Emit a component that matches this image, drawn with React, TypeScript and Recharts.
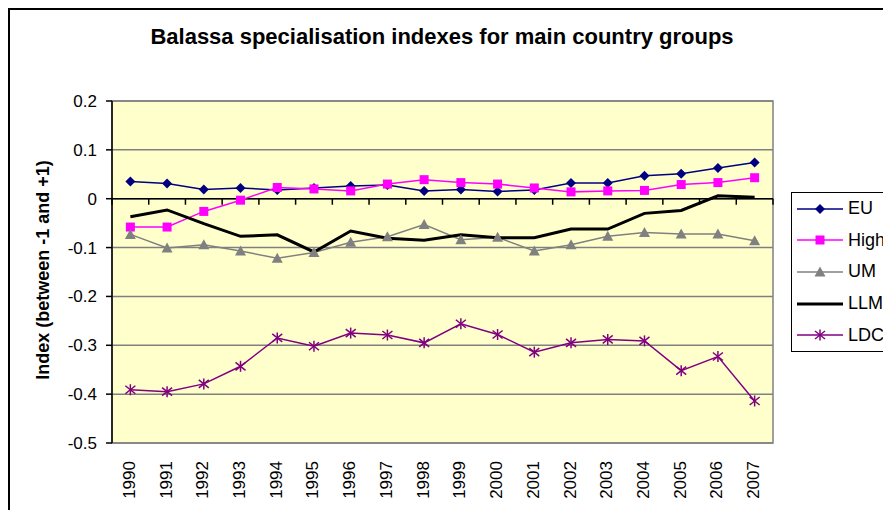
import React from "react";
import {
  LineChart,
  Line,
  XAxis,
  YAxis,
  CartesianGrid,
  ReferenceLine,
  ReferenceArea,
} from "recharts";

const years = [
  "1990", "1991", "1992", "1993", "1994", "1995", "1996", "1997", "1998",
  "1999", "2000", "2001", "2002", "2003", "2004", "2005", "2006", "2007",
];

const euValues = [
  0.035, 0.031, 0.019, 0.022, 0.018, 0.022, 0.026, 0.028, 0.016, 0.019,
  0.015, 0.018, 0.032, 0.032, 0.047, 0.051, 0.063, 0.074,
];
const highValues = [
  -0.058, -0.058, -0.026, -0.003, 0.023, 0.02, 0.016, 0.03, 0.039, 0.033,
  0.03, 0.022, 0.014, 0.016, 0.017, 0.029, 0.033, 0.043,
];
const umValues = [
  -0.073, -0.101, -0.094, -0.107, -0.122, -0.11, -0.089, -0.078, -0.053,
  -0.084, -0.079, -0.107, -0.094, -0.077, -0.069, -0.072, -0.072, -0.086,
];
const llmValues = [
  -0.037, -0.023, -0.051, -0.077, -0.074, -0.109, -0.066, -0.081, -0.085,
  -0.074, -0.08, -0.08, -0.062, -0.062, -0.03, -0.024, 0.006, 0.003,
];
const ldcValues = [
  -0.391, -0.395, -0.379, -0.343, -0.285, -0.302, -0.275, -0.279, -0.295,
  -0.256, -0.278, -0.314, -0.295, -0.288, -0.291, -0.352, -0.323, -0.414,
];

const yTicks = [0.2, 0.1, 0, -0.1, -0.2, -0.3, -0.4, -0.5];

const series = [
  { key: "EU", color: "#000080", width: 1.5, marker: "diamond" },
  { key: "High", color: "#FF00FF", width: 1.5, marker: "square" },
  { key: "UM", color: "#808080", width: 1.5, marker: "triangle" },
  { key: "LLM", color: "#000000", width: 3, marker: "none" },
  { key: "LDC", color: "#800080", width: 1.5, marker: "star" },
];

const data = years.map((year, i) => ({
  year,
  EU: euValues[i],
  High: highValues[i],
  UM: umValues[i],
  LLM: llmValues[i],
  LDC: ldcValues[i],
}));

const FONT = "Arial, 'Liberation Sans', sans-serif";

function Marker({ cx, cy, shape, color }: any) {
  if (cx == null || cy == null) return null;
  if (shape === "diamond") {
    return (
      <polygon
        points={`${cx},${cy - 5} ${cx + 5},${cy} ${cx},${cy + 5} ${cx - 5},${cy}`}
        fill={color}
      />
    );
  }
  if (shape === "square") {
    return <rect x={cx - 4.5} y={cy - 4.5} width={9} height={9} fill={color} />;
  }
  if (shape === "triangle") {
    return (
      <polygon
        points={`${cx},${cy - 5.5} ${cx + 5.5},${cy + 4.5} ${cx - 5.5},${cy + 4.5}`}
        fill={color}
      />
    );
  }
  if (shape === "star") {
    return (
      <g stroke={color} strokeWidth={1.5}>
        <line x1={cx} y1={cy - 5.5} x2={cx} y2={cy + 5.5} />
        <line x1={cx - 5} y1={cy - 4} x2={cx + 5} y2={cy + 4} />
        <line x1={cx - 5} y1={cy + 4} x2={cx + 5} y2={cy - 4} />
      </g>
    );
  }
  return null;
}

// zero line with the category tick marks hanging under it
function ZeroAxis(props: any) {
  const { x1, y1, x2 } = props;
  const n = years.length;
  const step = (x2 - x1) / n;
  return (
    <g stroke="#000" strokeWidth={1.5}>
      <line x1={x1} y1={y1} x2={x2} y2={y1} />
      {Array.from({ length: n + 1 }, (_, i) => (
        <line key={i} x1={x1 + i * step} y1={y1} x2={x1 + i * step} y2={y1 + 6} />
      ))}
    </g>
  );
}

function YearTick({ x, y, payload }: any) {
  return (
    <text
      x={x - 1}
      y={y}
      transform={`rotate(-90, ${x - 1}, ${y})`}
      textAnchor="end"
      dominantBaseline="central"
      fontSize={17}
      fontFamily={FONT}
      fill="#000"
    >
      {payload.value}
    </text>
  );
}

function LegendBox() {
  return (
    <div
      style={{
        position: "absolute",
        left: 783,
        top: 184,
        border: "1px solid #000",
        background: "#fff",
        width: 110,
        height: 160,
        boxSizing: "border-box",
        fontFamily: FONT,
        fontSize: 18,
      }}
    >
      {series.map((s) => (
        <div
          key={s.key}
          style={{ height: 31.6, display: "flex", alignItems: "center" }}
        >
          <svg width={56} height={32} style={{ display: "block" }}>
            <line
              x1={5}
              y1={16}
              x2={51}
              y2={16}
              stroke={s.color}
              strokeWidth={s.width}
            />
            <Marker cx={28} cy={16} shape={s.marker} color={s.color} />
          </svg>
          <span style={{ color: "#000" }}>{s.key}</span>
        </div>
      ))}
    </div>
  );
}

export default function App() {
  return (
    <div
      style={{
        position: "relative",
        width: 883,
        height: 502,
        overflow: "hidden",
        background: "#fff",
      }}
    >
      {/* outer chart frame, only top/left inside the window */}
      <div
        style={{
          position: "absolute",
          left: 0,
          top: 0,
          width: 1000,
          height: 1000,
          border: "2px solid #000",
        }}
      />

      {/* Title */}
      <div
        style={{
          position: "absolute",
          left: 0,
          width: 868,
          top: 16,
          textAlign: "center",
          fontFamily: FONT,
          fontWeight: 700,
          fontSize: 22,
          color: "#000",
        }}
      >
        Balassa specialisation indexes for main country groups
      </div>

      {/* Y axis title */}
      <div
        style={{
          position: "absolute",
          left: 35,
          top: 262,
          transform: "translate(-50%, -50%) rotate(-90deg)",
          whiteSpace: "nowrap",
          fontFamily: FONT,
          fontWeight: 700,
          fontSize: 18,
          color: "#000",
        }}
      >
        Index (between -1 and +1)
      </div>

      <div style={{ position: "absolute", left: 0, top: 0 }}>
        <LineChart
          width={883}
          height={502}
          data={data}
          margin={{ top: 93, right: 118, left: 44, bottom: 0 }}
        >
          <CartesianGrid
            vertical={false}
            stroke="#808080"
            strokeWidth={1.5}
            fill="#FFFFCC"
            fillOpacity={1}
          />
          <ReferenceArea
            y1={-0.5}
            y2={0.2}
            fill="none"
            stroke="#808080"
            strokeWidth={1.5}
            ifOverflow="visible"
          />
          <XAxis
            dataKey="year"
            scale="band"
            height={67}
            axisLine={false}
            tickLine={false}
            tickSize={0}
            tickMargin={18}
            interval={0}
            tick={<YearTick />}
          />
          <YAxis
            width={60}
            domain={[-0.5, 0.2]}
            ticks={yTicks}
            allowDataOverflow
            axisLine={{ stroke: "#000", strokeWidth: 1.5 }}
            tickLine={{ stroke: "#000", strokeWidth: 1.5 }}
            tickSize={6}
            tickMargin={9}
            tick={{ fontSize: 17, fill: "#000", fontFamily: FONT }}
            tickFormatter={(v: number) => String(v)}
          />
          <ReferenceLine y={0} shape={ZeroAxis} />
          {series.map((s) => (
            <Line
              key={s.key}
              type="linear"
              dataKey={s.key}
              stroke={s.color}
              strokeWidth={s.width}
              isAnimationActive={false}
              activeDot={false}
              dot={
                s.marker === "none"
                  ? false
                  : (p: any) => (
                      <Marker
                        key={`${s.key}-${p.index}`}
                        cx={p.cx}
                        cy={p.cy}
                        shape={s.marker}
                        color={s.color}
                      />
                    )
              }
            />
          ))}
        </LineChart>
      </div>

      <LegendBox />
    </div>
  );
}
